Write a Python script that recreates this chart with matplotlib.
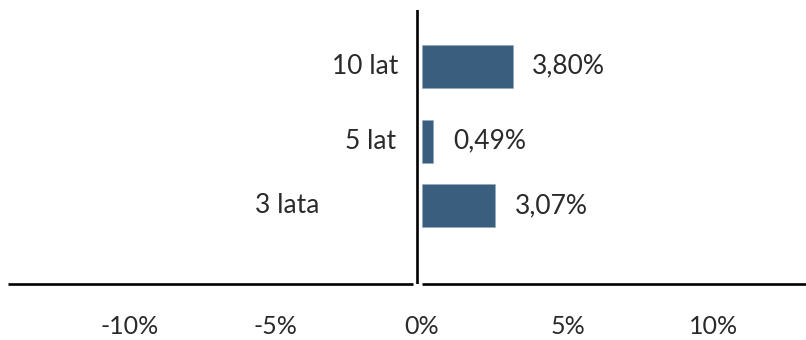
import matplotlib.pyplot as plt

plt.rcParams['font.family'] = ['Lato', 'DejaVu Sans']

categories = ['3 lata', '5 lat', '10 lat']
values = [3.07, 0.49, 3.80]
value_labels = ['3,07%', '0,49%', '3,80%']
tick_values = [-10, -5, 0, 5, 10]
tick_labels = ['-10%', '-5%', '0%', '5%', '10%']

# row placement and how far each category name sits left of zero (px)
rows = [0, 0.926, 2]
name_pad = [102, 26, 23]

bar_color = '#3a5e7e'
text_color = '#2a2a2a'

fig = plt.figure(figsize=(8.06, 3.4), dpi=100)
ax = fig.add_axes([8 / 806, 56 / 340, 798 / 806, 274 / 340])

ax.barh(rows, values, height=0.616, color=bar_color, edgecolor='#8fa6bb', linewidth=0.4)
ax.set_xlim(-17.31, 16.08)
ax.set_ylim(-1.117, 2.806)

for y, v, lab, name, pad in zip(rows, values, value_labels, categories, name_pad):
    ax.annotate(lab, (v, y), xytext=(14, 0), textcoords='offset points',
                ha='left', va='center', fontsize=19, color=text_color)
    ax.annotate(name, (0, y), xytext=(-pad * 0.72, 0), textcoords='offset points',
                ha='right', va='center', fontsize=19, color=text_color)

# axis lines: vertical at zero, horizontal split around it
ax.axvline(-0.19, color='black', lw=1.9)
ax.hlines(ax.get_ylim()[0], ax.get_xlim()[0], -0.35, color='black', lw=1.9, clip_on=False)
ax.hlines(ax.get_ylim()[0], 0.0, ax.get_xlim()[1], color='black', lw=1.9, clip_on=False)

for s in ax.spines.values():
    s.set_visible(False)
ax.set_xticks([])
ax.set_yticks([])

# percentage scale shown under the chart
k = 23.9 / 29.2
sec = ax.secondary_xaxis('bottom', functions=(lambda x: x * k, lambda x: x / k))
sec.set_xticks(tick_values)
sec.set_xticklabels(tick_labels)
sec.tick_params(length=0, pad=22, labelsize=18, labelcolor=text_color)
sec.spines['bottom'].set_visible(False)

fig.savefig('out.png', dpi=100)
